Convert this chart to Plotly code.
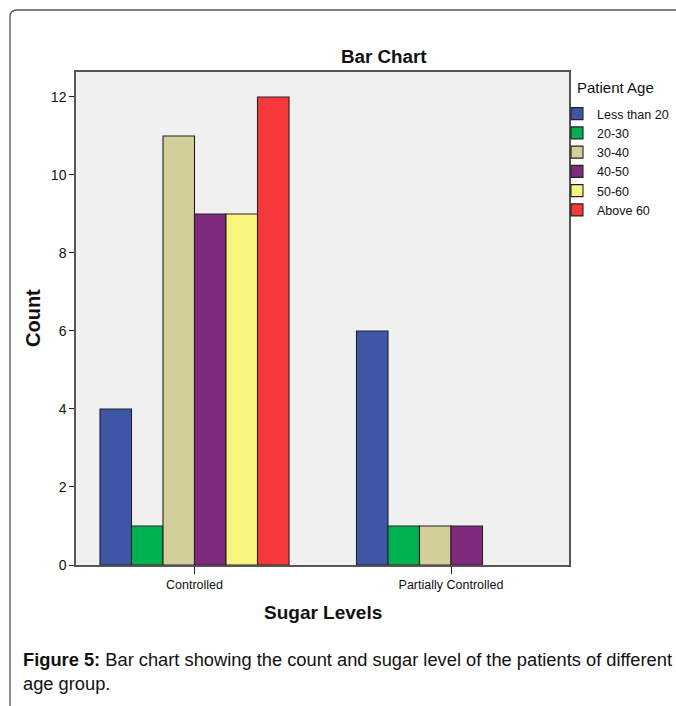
import plotly.graph_objects as go

categories = ["Controlled", "Partially Controlled"]
age_groups = ["Less than 20", "20-30", "30-40", "40-50", "50-60", "Above 60"]
less_than_20 = [4, 6]
age_20_30 = [1, 1]
age_30_40 = [11, 1]
age_40_50 = [9, 1]
age_50_60 = [9, 0]
above_60 = [12, 0]
y_ticks = [0, 2, 4, 6, 8, 10, 12]

series = [less_than_20, age_20_30, age_30_40, age_40_50, age_50_60, above_60]
colors = ["#3F56A7", "#00B351", "#D3CF9B", "#7F2A7C", "#F7F67C", "#F63A3B"]

W, H = 676, 706
L, R, T, B = 76, 569, 72, 565
FONT = "Liberation Sans, Arial, sans-serif"

def px(x):
    return (x - L) / (R - L)

def py(y):
    return (B - y) / (B - T)

fig = go.Figure()
for name, vals, col in zip(age_groups, series, colors):
    fig.add_trace(go.Bar(
        x=[0, 1], y=[v if v else None for v in vals], name=name,
        marker=dict(color=col, line=dict(color="#222222", width=1.1)),
    ))

fig.update_layout(
    width=W, height=H,
    margin=dict(l=L, r=W - R, t=T, b=H - B, pad=0, autoexpand=False),
    paper_bgcolor="white", plot_bgcolor="#F0F0F0",
    barmode="group", bargap=0.263, bargroupgap=0,
    font=dict(family=FONT, color="#111111"),
    showlegend=True,
    legend=dict(
        x=px(557), y=py(99), xanchor="left", yanchor="top",
        bgcolor="rgba(0,0,0,0)",
        font=dict(size=12.5, family=FONT),
        itemwidth=30, tracegroupgap=0,
    ),
    xaxis=dict(
        tickmode="array", tickvals=[0, 1], ticktext=categories,
        range=[-0.462, 1.46],
        showgrid=False, zeroline=False,
        showline=True, linecolor="#555555", linewidth=1.5, mirror=True,
        ticks="outside", ticklen=7, tickcolor="#222222", tickwidth=1,
        tickfont=dict(size=12.5, family=FONT, color="#111111"),
    ),
    yaxis=dict(
        tickmode="array", tickvals=y_ticks,
        range=[0, 12.64],
        showgrid=False, zeroline=False,
        showline=True, linecolor="#555555", linewidth=1.5, mirror=True,
        ticks="outside", ticklen=5, tickcolor="#222222", tickwidth=1,
        tickfont=dict(size=14, family=FONT, color="#111111"),
    ),
)

annotations = [
    dict(text="<b>Bar Chart</b>", x=px(384), y=py(56), font=dict(size=18.8)),
    dict(text="Patient Age", x=px(575), y=py(87), xanchor="left", font=dict(size=15)),
    dict(text="<b>Count</b>", x=px(33), y=py(318), textangle=-90, font=dict(size=20)),
    dict(text="<b>Sugar Levels</b>", x=px(323), y=py(612), font=dict(size=19)),
    dict(text="<b>Figure 5:</b> Bar chart showing the count and sugar level of the patients of different",
         x=px(21), y=py(659), xanchor="left", font=dict(size=18.3)),
    dict(text="age group.", x=px(21), y=py(683), xanchor="left", font=dict(size=18.3)),
]
for a in annotations:
    a.setdefault("xanchor", "center")
    fig.add_annotation(xref="paper", yref="paper", showarrow=False, yanchor="middle",
                       font=dict(family=FONT, color="#111111", size=a.pop("font")["size"]),
                       **a)

frame_path = (f"M {px(10)},{py(706)} L {px(10)},{py(17)} "
              f"Q {px(10)},{py(10)} {px(17)},{py(10)} L {px(676)},{py(10)}")
fig.add_shape(type="path", path=frame_path, xref="paper", yref="paper",
              line=dict(color="#555555", width=1.3), layer="below")

fig.write_html("out.html", config={"displayModeBar": False},
               post_script="document.body.style.margin='0';")
